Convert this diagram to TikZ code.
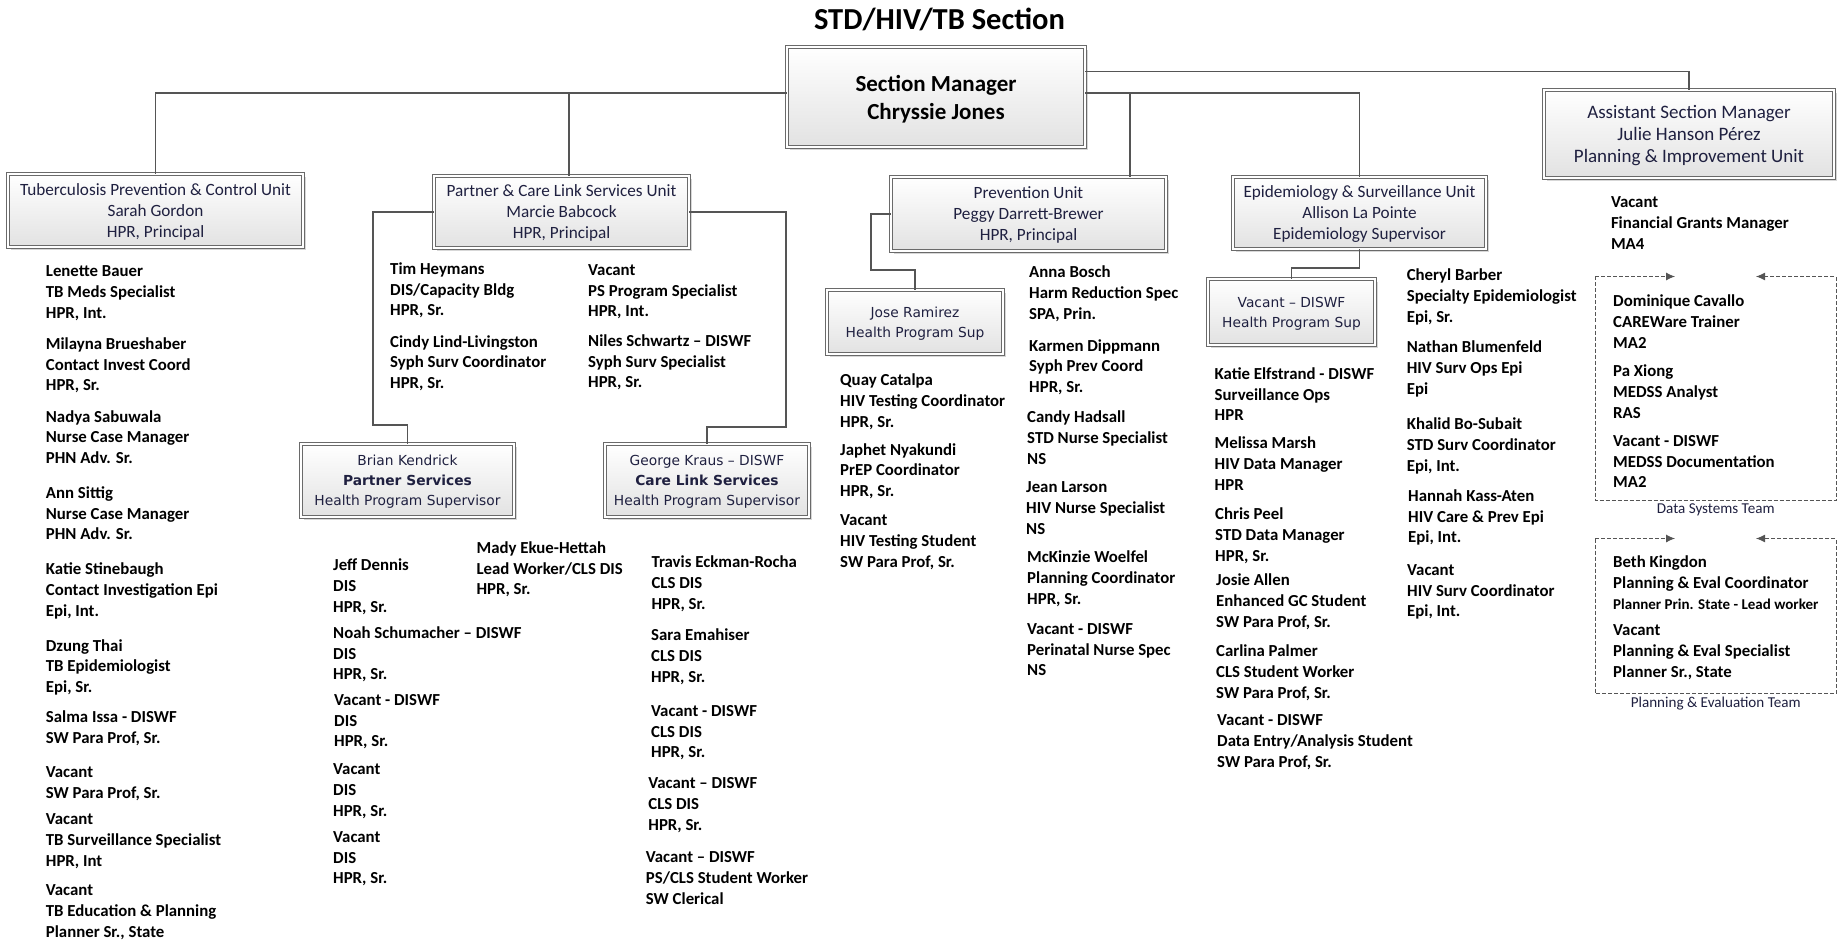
\documentclass[tikz,border=0pt]{standalone}
\usepackage{fontspec}
\setmainfont{Carlito}
\newfontfamily\verd{DejaVu Sans}
\usetikzlibrary{arrows.meta,shadows}
\definecolor{boxtext}{HTML}{1F2040}
\definecolor{rule}{HTML}{555555}
\definecolor{frame}{HTML}{6A6A6A}
\definecolor{shade}{HTML}{E2E2E2}

\tikzset{
  orgbox/.style={draw=frame, double=white, double distance=2.4pt, line width=0.8pt,
    top color=white, bottom color=shade,
    drop shadow={shadow xshift=3pt, shadow yshift=-3pt, fill=black!35, opacity=0.45},
    inner sep=0pt, align=center, text=boxtext, text depth=0pt},
  unitbox/.style={orgbox, font=\fontsize{17.2}{21}\selectfont},
  subbox/.style={orgbox, font=\verd\fontsize{13.8}{20}\selectfont},
  staff/.style={anchor=base west, align=left, inner sep=0pt, yshift=-1.8pt, font=\fontsize{16.8}{20.8}\selectfont\bfseries},
  link/.style={draw=rule, line width=1.1pt},
  team/.style={draw=rule, line width=0.9pt, dash pattern=on 4pt off 2pt},
  teamlabel/.style={anchor=base, inner sep=0pt, text=boxtext, font=\fontsize{15.1}{18}\selectfont}
}

\begin{document}
\begin{tikzpicture}[x=1pt,y=-1pt]
\useasboundingbox (0,0) rectangle (1847,941);

\node[anchor=base, inner sep=0pt, font=\fontsize{30.5}{36}\selectfont\bfseries] (title) at (939.5,29.5) {STD/HIV/TB Section};

\node[orgbox, minimum width=298pt, minimum height=100pt, text=black, font=\fontsize{23}{28}\selectfont\bfseries] (mgr) at (936,97) {Section Manager\\Chryssie Jones};
\node[orgbox, minimum width=290pt, minimum height=88pt, text depth=-3pt, font=\fontsize{19}{22}\selectfont] (asst) at (1689,134) {Assistant Section Manager\\Julie Hanson Pérez\\Planning \& Improvement Unit};

\node[unitbox, minimum width=295pt, minimum height=73pt] (tb) at (155.5,210.5) {Tuberculosis Prevention \& Control Unit\\Sarah Gordon\\HPR, Principal};
\node[unitbox, minimum width=255pt, minimum height=72pt] (part) at (561.5,212) {Partner \& Care Link Services Unit\\Marcie Babcock\\HPR, Principal};
\node[unitbox, minimum width=275pt, minimum height=74pt] (prev) at (1028.5,214) {Prevention Unit\\Peggy Darrett-Brewer\\HPR, Principal};
\node[unitbox, minimum width=253pt, minimum height=72pt] (epi) at (1359.5,213) {Epidemiology \& Surveillance Unit\\Allison La Pointe\\Epidemiology Supervisor};

\node[subbox, minimum width=213pt, minimum height=73pt] (brian) at (407.5,480.5) {Brian Kendrick\\\textbf{Partner Services}\\Health Program Supervisor};
\node[subbox, minimum width=204pt, minimum height=73pt] (george) at (707,480.5) {George Kraus – DISWF\\\textbf{Care Link Services}\\Health Program Supervisor};
\node[subbox, minimum width=176pt, minimum height=64pt] (jose) at (915,322) {Jose Ramirez\\Health Program Sup};
\node[subbox, minimum width=167pt, minimum height=66pt] (evac) at (1291.5,312) {Vacant – DISWF\\Health Program Sup};

\coordinate (busy) at (0,93);
\coordinate (topy) at (0,71.5);
\coordinate (pbus) at (569,93);
\coordinate (vbus) at (1130,93);
\coordinate (pb1) at (373,425);
\coordinate (pg1) at (786,427);
\coordinate (pj1) at (871,270);
\coordinate (pe1) at (1291.5,268);

\draw[link] (mgr.west |- busy) -| (tb.north);
\draw[link] (mgr.east |- busy) -| (epi.north);
\draw[link] (mgr.east |- topy) -| (asst.north);
\draw[link] (part.north -| pbus) -- (pbus);
\draw[link] (prev.north -| vbus) -- (vbus);
\draw[link] (part.west) -| (pb1) -| (brian.north);
\draw[link] (part.east) -| (pg1) -| (george.north);
\draw[link] (prev.west) -| (pj1) -| (jose.north);
\draw[link] (epi.south) |- (pe1) -- (evac.north);

\node[staff] (tb1) at (45.7,316.6) {Lenette Bauer\\TB Meds Specialist\\HPR, Int.};
\node[staff] (tb2) at (45.7,389.1) {Milayna Brueshaber\\Contact Invest Coord\\HPR, Sr.};
\node[staff] (tb3) at (45.7,461.8) {Nadya Sabuwala\\Nurse Case Manager\\PHN Adv. Sr.};
\node[staff] (tb4) at (45.7,538) {Ann Sittig\\Nurse Case Manager\\PHN Adv. Sr.};
\node[staff] (tb5) at (45.7,614.6) {Katie Stinebaugh\\Contact Investigation Epi\\Epi, Int.};
\node[staff] (tb6) at (45.7,690.9) {Dzung Thai\\TB Epidemiologist\\Epi, Sr.};
\node[staff] (tb7) at (45.7,741.8) {Salma Issa - DISWF\\SW Para Prof, Sr.};
\node[staff] (tb8) at (45.7,796.8) {Vacant\\SW Para Prof, Sr.};
\node[staff] (tb9) at (45.7,864.6) {Vacant\\TB Surveillance Specialist\\HPR, Int};
\node[staff] (tb10) at (45.7,935.4) {Vacant\\TB Education \& Planning\\Planner Sr., State};

\node[staff] (pt1) at (390,314.2) {Tim Heymans\\DIS/Capacity Bldg\\HPR, Sr.};
\node[staff] (pt2) at (390,386.9) {Cindy Lind-Livingston\\Syph Surv Coordinator\\HPR, Sr.};
\node[staff] (pt3) at (588,315.1) {Vacant\\PS Program Specialist\\HPR, Int.};
\node[staff] (pt4) at (588,386) {Niles Schwartz – DISWF\\Syph Surv Specialist\\HPR, Sr.};

\node[staff] (ps1) at (333,610.3) {Jeff Dennis\\DIS\\HPR, Sr.};
\node[staff] (ps2) at (476.4,593.1) {Mady Ekue-Hettah\\Lead Worker/CLS DIS\\HPR, Sr.};
\node[staff] (ps3) at (333,678.1) {Noah Schumacher – DISWF\\DIS\\HPR, Sr.};
\node[staff] (ps4) at (334,745.1) {Vacant - DISWF\\DIS\\HPR, Sr.};
\node[staff] (ps5) at (333,814.2) {Vacant\\DIS\\HPR, Sr.};
\node[staff] (ps6) at (333,882.1) {Vacant\\DIS\\HPR, Sr.};

\node[staff] (cl1) at (651.4,607.6) {Travis Eckman-Rocha\\CLS DIS\\HPR, Sr.};
\node[staff] (cl2) at (651,680.7) {Sara Emahiser\\CLS DIS\\HPR, Sr.};
\node[staff] (cl3) at (651,756.1) {Vacant - DISWF\\CLS DIS\\HPR, Sr.};
\node[staff] (cl4) at (648.2,828.3) {Vacant – DISWF\\CLS DIS\\HPR, Sr.};
\node[staff] (cl5) at (645.7,902.3) {Vacant – DISWF\\PS/CLS Student Worker\\SW Clerical};

\node[staff] (pv1) at (840,425.6) {Quay Catalpa\\HIV Testing Coordinator\\HPR, Sr.};
\node[staff] (pv2) at (840,494.8) {Japhet Nyakundi\\PrEP Coordinator\\HPR, Sr.};
\node[staff] (pv3) at (840,565.3) {Vacant\\HIV Testing Student\\SW Para Prof, Sr.};
\node[staff] (pv4) at (1029,317.7) {Anna Bosch\\Harm Reduction Spec\\SPA, Prin.};
\node[staff] (pv5) at (1029,390.9) {Karmen Dippmann\\Syph Prev Coord\\HPR, Sr.};
\node[staff] (pv6) at (1027,462.6) {Candy Hadsall\\STD Nurse Specialist\\NS};
\node[staff] (pv7) at (1026,532.3) {Jean Larson\\HIV Nurse Specialist\\NS};
\node[staff] (pv8) at (1027,602.3) {McKinzie Woelfel\\Planning Coordinator\\HPR, Sr.};
\node[staff] (pv9) at (1027,674.1) {Vacant - DISWF\\Perinatal Nurse Spec\\NS};

\node[staff] (ep1) at (1214.5,419.1) {Katie Elfstrand - DISWF\\Surveillance Ops\\HPR};
\node[staff] (ep2) at (1214.5,488.2) {Melissa Marsh\\HIV Data Manager\\HPR};
\node[staff] (ep3) at (1215,559.2) {Chris Peel\\STD Data Manager\\HPR, Sr.};
\node[staff] (ep4) at (1216,625.6) {Josie Allen\\Enhanced GC Student\\SW Para Prof, Sr.};
\node[staff] (ep5) at (1216,696.2) {Carlina Palmer\\CLS Student Worker\\SW Para Prof, Sr.};
\node[staff] (ep6) at (1217,765.3) {Vacant - DISWF\\Data Entry/Analysis Student\\SW Para Prof, Sr.};
\node[staff] (ep7) at (1406.6,320.8) {Cheryl Barber\\Specialty Epidemiologist\\Epi, Sr.};
\node[staff] (ep8) at (1406.6,392.2) {Nathan Blumenfeld\\HIV Surv Ops Epi\\Epi};
\node[staff] (ep9) at (1406.6,469.3) {Khalid Bo-Subait\\STD Surv Coordinator\\Epi, Int.};
\node[staff] (ep10) at (1408,541.1) {Hannah Kass-Aten\\HIV Care \& Prev Epi\\Epi, Int.};
\node[staff] (ep11) at (1407,615.1) {Vacant\\HIV Surv Coordinator\\Epi, Int.};

\node[staff] (as1) at (1610.8,247.6) {Vacant\\Financial Grants Manager\\MA4};
\node[staff] (ds1) at (1613,346.4) {Dominique Cavallo\\CAREWare Trainer\\MA2};
\node[staff] (ds2) at (1613,416.4) {Pa Xiong\\MEDSS Analyst\\RAS};
\node[staff] (ds3) at (1613,486) {Vacant - DISWF\\MEDSS Documentation\\MA2};
\node[staff] (pe1) at (1613,607.6) {Beth Kingdon\\Planning \& Eval Coordinator\\{\fontsize{15}{20.8}\selectfont Planner Prin. State - Lead worker}};
\node[staff] (pe2) at (1613,675.5) {Vacant\\Planning \& Eval Specialist\\Planner Sr., State};

\coordinate (dsnw) at (1595,276.5);
\coordinate (dsse) at (1836,500);
\coordinate (penw) at (1595,538.5);
\coordinate (pese) at (1836,693.5);
\draw[team,-{Latex[length=9pt,width=8pt]}] (dsnw) -- ++(80,0);
\draw[team,-{Latex[length=9pt,width=8pt]}] (dsnw) |- (dsse) -- (dsse |- dsnw) -- ++(-80,0);
\draw[team,-{Latex[length=9pt,width=8pt]}] (penw) -- ++(80,0);
\draw[team,-{Latex[length=9pt,width=8pt]}] (penw) |- (pese) -- (pese |- penw) -- ++(-80,0);
\node[teamlabel] (dslabel) at (1715.7,513) {Data Systems Team};
\node[teamlabel] (pelabel) at (1715.7,707) {Planning \& Evaluation Team};
\end{tikzpicture}
\end{document}
